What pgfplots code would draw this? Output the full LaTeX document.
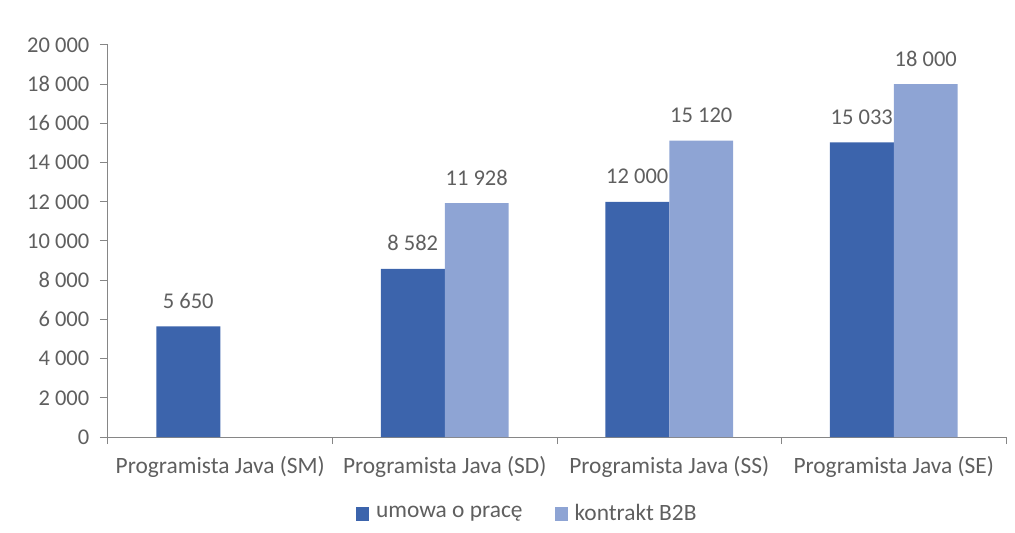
\documentclass[border=0pt]{standalone}
\usepackage{pgfplots}
\pgfplotsset{compat=1.18}
\usepackage{fontspec}
\setmainfont{Carlito}
\definecolor{cA}{HTML}{3C64AC}
\definecolor{cB}{HTML}{8EA4D4}
\definecolor{txt}{HTML}{5F5F5F}
\definecolor{axc}{HTML}{868686}
\newcommand{\fs}{\fontsize{22.5bp}{26bp}\selectfont}
\newcommand{\fl}{\fontsize{23.4bp}{27bp}\selectfont}
\begin{document}
\fs
\begin{tikzpicture}
\begin{axis}[
  scale only axis, width=898bp, height=392bp,
  ybar=0pt, bar width=0.285,
  xmin=-0.5, xmax=3.5, ymin=0, ymax=20000,
  xtick={0,1,2,3},
  xticklabels={Programista Java (SM),Programista Java (SD),Programista Java (SS),Programista Java (SE)},
  minor xtick={-0.5,0.5,1.5,2.5,3.5},
  ytick={0,2000,...,20000},
  axis x line*=bottom, axis y line*=left,
  axis line style={axc, line width=1bp},
  tick align=outside, major tick length=8bp, minor tick length=7bp,
  every tick/.style={axc, line width=1bp},
  major x tick style={draw=none},
  tick label style={txt, font=\fs},
  yticklabel style={xshift=-3bp},
  xticklabel style={yshift=-4bp, font=\fl},
  /pgf/number format/.cd, 1000 sep={\ }, assume math mode=true, /pgfplots/.cd,
  scaled y ticks=false,
  nodes near coords,
  every node near coord/.append style={txt, font=\fs, yshift=10bp},
  legend style={at={(axis description cs:0.2762,-0.196)}, anchor=west, draw=none, fill=none,
    inner sep=0pt, outer sep=0pt, text=txt, font=\fl,
    nodes={inner sep=2bp},
    /tikz/every odd column/.append style={column sep=5bp},
    /tikz/every even column/.append style={column sep=30bp}},
  legend columns=2,
]
\addplot[fill=cA, draw=none, legend image code/.code={\fill[cA] (0bp,-7bp) rectangle (13bp,7bp);}]
  coordinates {(0,5650) (1,8582) (2,12000) (3,15033)};
\addplot[fill=cB, draw=none, legend image code/.code={\fill[cB] (0bp,-7bp) rectangle (13bp,7bp);}]
  coordinates {(1,11928) (2,15120) (3,18000)};
\legend{umowa o pracę, kontrakt B2B}
\end{axis}
\pgfresetboundingbox
\path[use as bounding box] ([xshift=-108bp,yshift=-96bp]current axis.south west) rectangle ([xshift=9bp,yshift=45bp]current axis.north east);
\end{tikzpicture}
\end{document}
